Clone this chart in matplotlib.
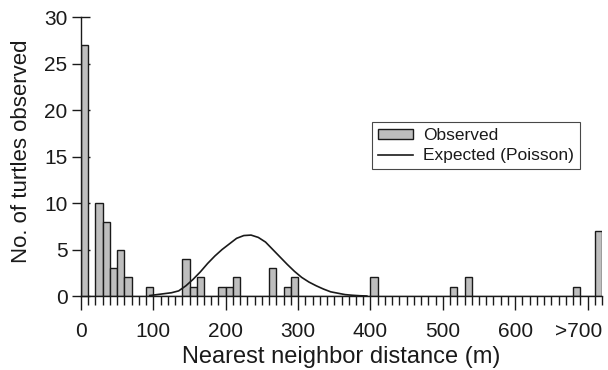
import matplotlib
matplotlib.use("Agg")
import matplotlib.pyplot as plt
from matplotlib.ticker import MultipleLocator, FixedLocator
from matplotlib.transforms import ScaledTranslation
import numpy as np

plt.rcParams['font.family'] = ['Liberation Sans', 'DejaVu Sans']

bin_width = 10
observed_counts = [27, 0, 10, 8, 3, 5, 2, 0, 0, 1,
                   0, 0, 0, 0, 4, 1, 2, 0, 0, 1,
                   1, 2, 0, 0, 0, 0, 3, 0, 1, 2,
                   0, 0, 0, 0, 0, 0, 0, 0, 0, 0,
                   2, 0, 0, 0, 0, 0, 0, 0, 0, 0,
                   0, 1, 0, 2, 0, 0, 0, 0, 0, 0,
                   0, 0, 0, 0, 0, 0, 0, 0, 1, 0,
                   0, 7]
expected_x = [95, 105, 115, 125, 135, 145, 155, 165, 175, 185, 195, 205, 215, 225,
              235, 245, 255, 265, 275, 285, 295, 305, 315, 325, 335, 345, 355, 365,
              375, 385, 395]
expected_y = [0.05, 0.15, 0.25, 0.35, 0.55, 1.1, 1.8, 2.6, 3.5, 4.3, 5.0, 5.6, 6.2, 6.5,
              6.55, 6.3, 5.8, 5.0, 4.2, 3.4, 2.65, 2.0, 1.5, 1.1, 0.75, 0.45, 0.3, 0.15,
              0.08, 0.03, 0.0]
xtick_values = [0, 100, 200, 300, 400, 500, 600, 700]
xtick_labels = ['0', '100', '200', '300', '400', '500', '600', '>700']
ytick_values = [0, 5, 10, 15, 20, 25, 30]

text_color = '#1a1a1a'

fig = plt.figure(figsize=(6.08, 3.70), dpi=100)
ax = fig.add_axes([81/608, 1-296/370, (602-81)/608, (296-17)/370])

edges = np.arange(len(observed_counts)) * bin_width
bars = ax.bar(edges, observed_counts, width=bin_width, align='edge',
              color='#bebebe', edgecolor='#1a1a1a', linewidth=1.0, label='Observed', zorder=2)
line, = ax.plot(expected_x, expected_y, color='#1a1a1a', linewidth=1.2,
                label='Expected (Poisson)', zorder=3)

ax.set_xlim(0, 720)
ax.set_ylim(0, 30)
ax.spines['top'].set_visible(False)
ax.spines['right'].set_visible(False)
for s in ('left', 'bottom'):
    ax.spines[s].set_linewidth(1.0)
    ax.spines[s].set_color('#1a1a1a')

ax.xaxis.set_major_locator(FixedLocator(xtick_values))
ax.set_xticklabels(xtick_labels)
ax.xaxis.set_minor_locator(MultipleLocator(bin_width))
ax.set_yticks(ytick_values)

ax.tick_params(axis='x', which='major', direction='out', length=10, width=1.0,
               pad=9, labelsize=15, colors=text_color)
ax.tick_params(axis='x', which='minor', direction='out', length=6.5, width=1.0,
               colors=text_color)
ax.tick_params(axis='y', which='major', direction='inout', length=13.5, width=1.0,
               pad=3, labelsize=15, colors=text_color)

# shift the last ">700" label slightly left so it fits like the reference
last = ax.get_xticklabels()[-1]
last.set_transform(last.get_transform() + ScaledTranslation(-9/100, 0, fig.dpi_scale_trans))

ax.set_xlabel('Nearest neighbor distance (m)', fontsize=17, color=text_color, labelpad=3.5)
ax.set_ylabel('No. of turtles observed', fontsize=16, color=text_color)
ax.yaxis.set_label_coords(-0.0946, 0.518)

leg = ax.legend([bars, line], ['Observed', 'Expected (Poisson)'],
                loc='upper left', bbox_to_anchor=(0.5585, 0.6237), borderaxespad=0,
                fancybox=False, frameon=True, fontsize=12.5, handlelength=2.0,
                handleheight=0.5, borderpad=0.35, labelspacing=0.3, handletextpad=0.6)
leg.get_frame().set_edgecolor('#1a1a1a')
leg.get_frame().set_linewidth(0.8)
for t in leg.get_texts():
    t.set_color(text_color)

fig.savefig('out.png', dpi=100)
